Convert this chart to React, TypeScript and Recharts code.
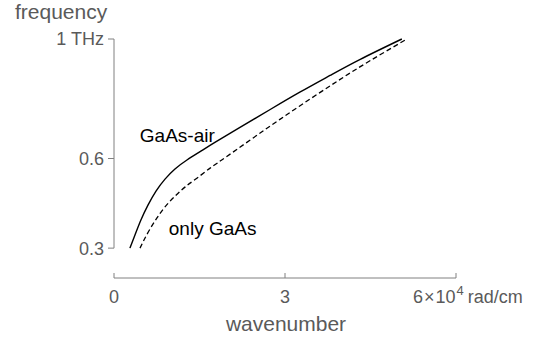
import React from 'react';
import { LineChart, Line, XAxis, YAxis, ReferenceLine, ReferenceDot } from 'recharts';

// wavenumber (×10^4 rad/cm) and frequency (THz)
const airK = [0.28, 0.368, 0.474, 0.596, 0.737, 0.895, 1.07, 1.28, 1.51, 1.77, 2.21, 2.74, 3.26, 3.79, 4.32, 5.05];
const airF = [0.3, 0.344, 0.395, 0.444, 0.491, 0.531, 0.565, 0.595, 0.623, 0.654, 0.704, 0.764, 0.822, 0.878, 0.932, 1.0];
const gaasK = [0.456, 0.526, 0.632, 0.754, 0.895, 1.07, 1.25, 1.46, 1.68, 1.89, 2.39, 2.91, 3.44, 3.96, 4.49, 5.14];
const gaasF = [0.3, 0.327, 0.364, 0.401, 0.438, 0.474, 0.505, 0.535, 0.567, 0.595, 0.662, 0.731, 0.799, 0.864, 0.927, 1.0];

const xTicks = [0, 3, 6];
const yTicks = [0.3, 0.6, 1];
const seriesNames = ['GaAs-air', 'only GaAs'];

const airData = airK.map((k, i) => ({ x: k, y: airF[i] }));
const gaasData = gaasK.map((k, i) => ({ x: k, y: gaasF[i] }));

const FONT = 'Liberation Sans, Arial, sans-serif';
const GRAY_TEXT = '#5a5a5a';
const GRAY_AXIS = '#808080';

const XTick = (props: any) => {
  const { x, y, payload } = props;
  const v = payload.value;
  return (
    <g>
      <line x1={x} x2={x} y1={y} y2={y - 5} stroke={GRAY_AXIS} strokeWidth={1} />
      {v === 6 ? (
        <text x={x - 43} y={y + 25} fill={GRAY_TEXT} fontSize={18} fontFamily={FONT}>
          <tspan>6</tspan>
          <tspan dx={1}>×</tspan>
          <tspan dx={1}>10</tspan>
          <tspan dx={1} dy={-8} fontSize={13}>4</tspan>
          <tspan dx={4} dy={8}>rad/cm</tspan>
        </text>
      ) : (
        <text x={x} y={y + 25} textAnchor="middle" fill={GRAY_TEXT} fontSize={18} fontFamily={FONT}>
          {String(v)}
        </text>
      )}
    </g>
  );
};

export default function App() {
  return (
    <div style={{ position: 'absolute', left: 0, top: 0, width: 543, height: 343, background: '#fff' }}>
      <LineChart
        width={543}
        height={343}
        margin={{ top: 39, right: 87, bottom: 15, left: 54 }}
      >
        <XAxis
          type="number"
          dataKey="x"
          domain={[0, 6]}
          ticks={xTicks}
          height={50}
          axisLine={{ stroke: GRAY_AXIS, strokeWidth: 1 }}
          tickLine={false}
          tickSize={0}
          tickMargin={0}
          tick={<XTick />}
          allowDuplicatedCategory={false}
        />
        <YAxis
          type="number"
          dataKey="y"
          domain={[0.2, 1]}
          ticks={yTicks}
          width={60}
          axisLine={false}
          tickLine={{ stroke: GRAY_AXIS, strokeWidth: 1 }}
          tickSize={6}
          tickMargin={4}
          tick={{ fill: GRAY_TEXT, fontSize: 18, fontFamily: FONT }}
          tickFormatter={(v: number) => (v === 1 ? '1 THz' : v.toFixed(1))}
        />
        <ReferenceLine
          segment={[{ x: 0, y: 0.3 }, { x: 0, y: 1 }]}
          stroke={GRAY_AXIS}
          strokeWidth={1}
        />
        <Line
          data={airData}
          dataKey="y"
          type="natural"
          dot={false}
          stroke="#000"
          strokeWidth={1.4}
          isAnimationActive={false}
        />
        <Line
          data={gaasData}
          dataKey="y"
          type="natural"
          dot={false}
          stroke="#000"
          strokeWidth={1.3}
          strokeDasharray="5 3"
          isAnimationActive={false}
        />
        <ReferenceDot
          x={1.11}
          y={0.679}
          r={0}
          fill="none"
          stroke="none"
          label={{ value: seriesNames[0], position: 'center', fill: '#000', fontSize: 19, fontFamily: FONT }}
        />
        <ReferenceDot
          x={1.73}
          y={0.367}
          r={0}
          fill="none"
          stroke="none"
          label={{ value: seriesNames[1], position: 'center', fill: '#000', fontSize: 19, fontFamily: FONT }}
        />
      </LineChart>
      <svg
        width={543}
        height={343}
        style={{ position: 'absolute', left: 0, top: 0, pointerEvents: 'none' }}
      >
        <text x={15} y={19} fill={GRAY_TEXT} fontSize={21} fontFamily={FONT}>frequency</text>
        <text x={286} y={331} textAnchor="middle" fill={GRAY_TEXT} fontSize={21} fontFamily={FONT}>wavenumber</text>
      </svg>
    </div>
  );
}
